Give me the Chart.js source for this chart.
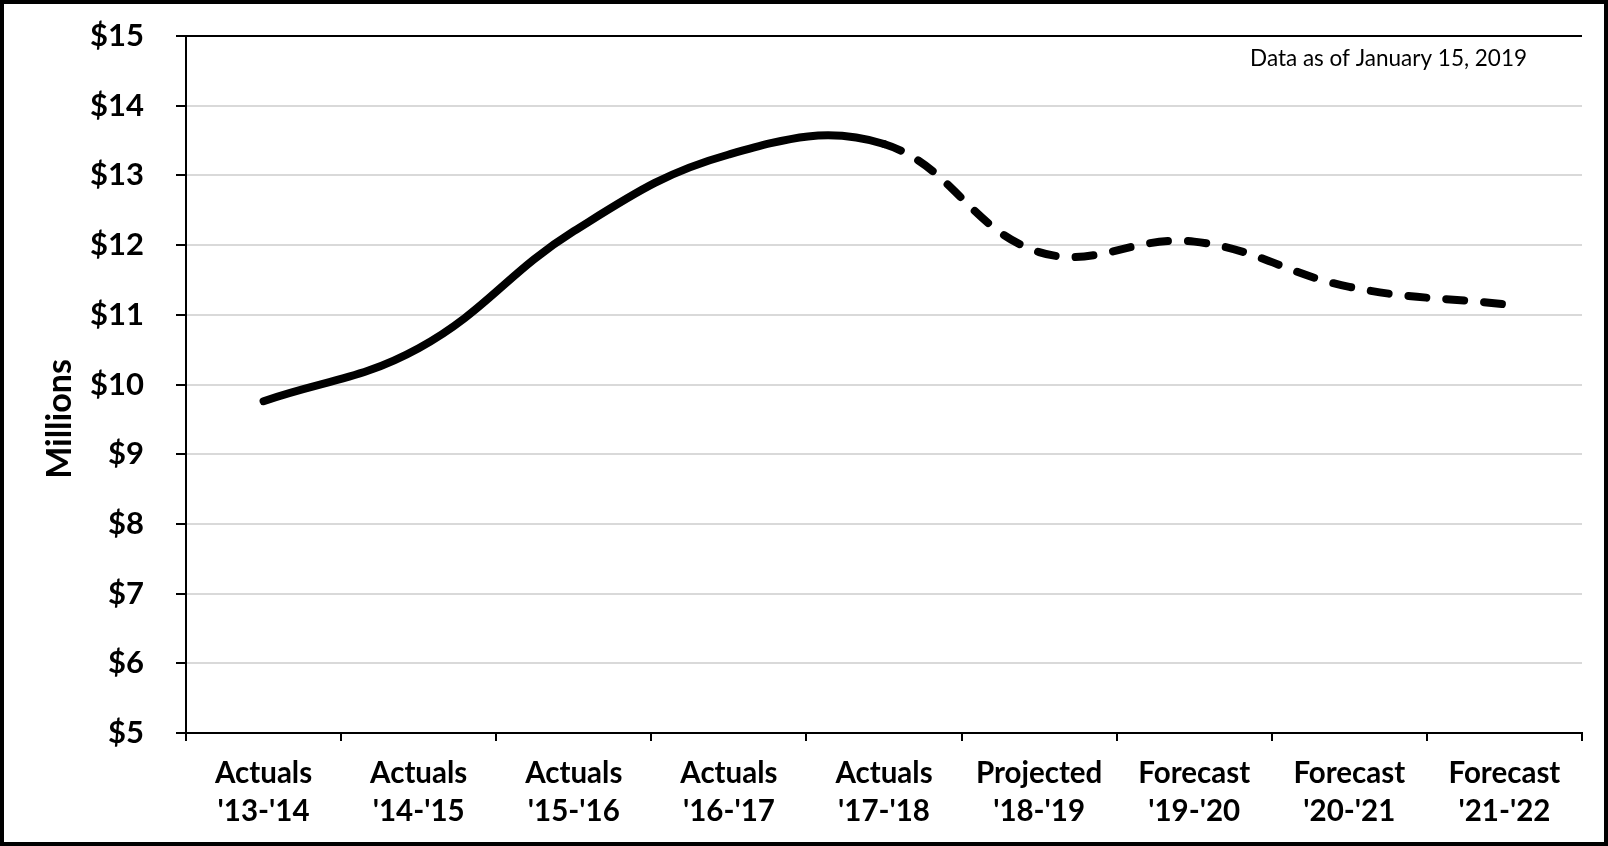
<!DOCTYPE html>
<html>
<head>
<meta charset="utf-8">
<script src="https://cdn.jsdelivr.net/npm/chart.js@4.4.1/dist/chart.umd.min.js"></script>
<style>
  html, body { margin: 0; padding: 0; background: #fff; }
  #frame { width: 1608px; height: 846px; box-sizing: border-box; border: 4px solid #000; background: #fff; }
  canvas { display: block; }
</style>
</head>
<body>
<div id="frame"><canvas id="chart" width="1600" height="838"></canvas></div>
<script>
// ===== Data =====
const periods = [
  ["Actuals", "'13-'14"],
  ["Actuals", "'14-'15"],
  ["Actuals", "'15-'16"],
  ["Actuals", "'16-'17"],
  ["Actuals", "'17-'18"],
  ["Projected", "'18-'19"],
  ["Forecast", "'19-'20"],
  ["Forecast", "'20-'21"],
  ["Forecast", "'21-'22"],
];
const millions = [9.76, 10.52, 12.2, 13.3, 13.45, 11.9, 12.05, 11.4, 11.15];
const lastActualIndex = 4; // dashed from here on
const yMin = 5, yMax = 15, yStep = 1;
const axisTitle = "Millions";
const note = "Data as of January 15, 2019";

const FONT = "Lato, 'Open Sans', sans-serif";

// title + note drawn on top of the chart
const extrasPlugin = {
  id: "extras",
  afterDraw(chart) {
    const { ctx, chartArea } = chart;
    ctx.save();
    ctx.fillStyle = "#000";
    ctx.font = `22.5px ${FONT}`;
    ctx.textAlign = "right";
    ctx.textBaseline = "middle";
    ctx.fillText(note, chartArea.right - 55, chartArea.top + 23);

    ctx.translate(56, 415);
    ctx.rotate(-Math.PI / 2);
    ctx.font = `bold 34px ${FONT}`;
    ctx.textAlign = "center";
    ctx.fillText(axisTitle, 0, 0);
    ctx.restore();
  },
};

new Chart(document.getElementById("chart"), {
  type: "line",
  data: {
    labels: periods,
    datasets: [{
      data: millions,
      borderColor: "#000",
      borderWidth: 8,
      borderCapStyle: "round",
      borderJoinStyle: "round",
      pointRadius: 0,
      tension: 0.4,
      segment: {
        borderDash: ctx => ctx.p0DataIndex >= lastActualIndex ? [18, 20] : undefined,
      },
    }],
  },
  options: {
    responsive: false,
    animation: false,
    devicePixelRatio: 1,
    layout: { padding: { top: 32, right: 22, bottom: 0, left: 0 } },
    plugins: { legend: { display: false }, tooltip: { enabled: false } },
    scales: {
      x: {
        offset: true,
        grid: {
          offset: true,
          drawOnChartArea: true,
          color: ctx => ctx.index === periods.length ? "#000" : "rgba(0,0,0,0)",
          lineWidth: 2,
          tickColor: "#000",
          tickWidth: 2,
          tickLength: 8,
        },
        border: { color: "#000", width: 2 },
        ticks: {
          color: "#000",
          font: { family: FONT, size: 29.5, weight: "bold", lineHeight: 1.3 },
          padding: 13,
          maxRotation: 0,
          autoSkip: false,
        },
        afterFit: s => { s.height = 109; },
      },
      y: {
        min: yMin,
        max: yMax,
        grid: {
          color: ctx => ctx.tick && ctx.tick.value === yMax ? "#000" : "#d9d9d9",
          lineWidth: 2,
          tickColor: "#000",
          tickWidth: 2,
          tickLength: 10,
        },
        border: { color: "#000", width: 2 },
        ticks: {
          stepSize: yStep,
          color: "#000",
          font: { family: FONT, size: 31, weight: "bold" },
          padding: 32,
          callback: v => "$" + v,
        },
        // fixed width; drop the label overflow so the plot top follows layout padding
        afterFit: s => { s.width = 182; s.paddingTop = 0; s.paddingBottom = 0; },
      },
    },
  },
  plugins: [extrasPlugin],
});
</script>
</body>
</html>
